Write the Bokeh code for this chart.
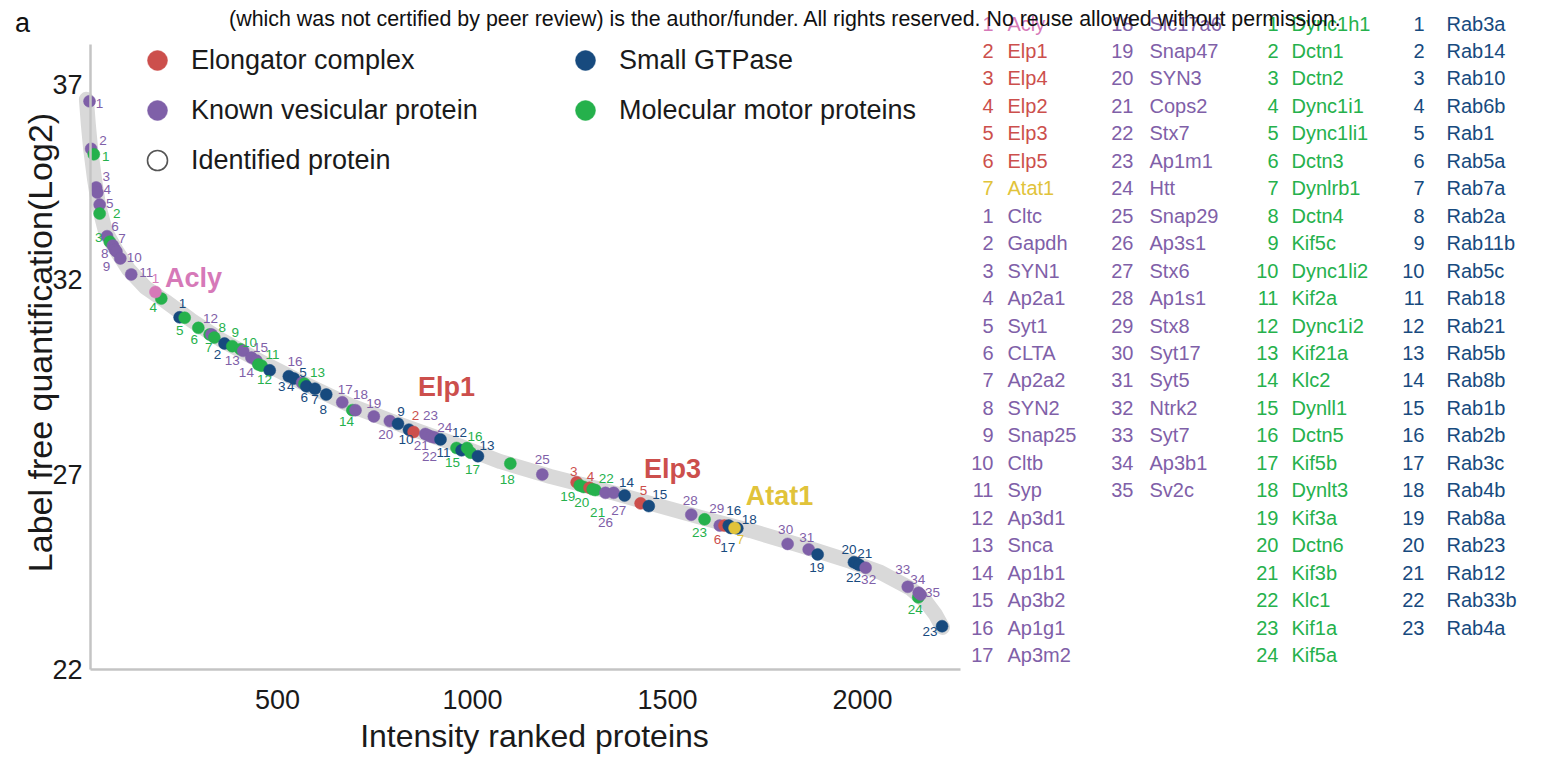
import math
import pandas as pd
from bokeh.plotting import figure
from bokeh.models import (ColumnDataSource, LabelSet, Label, Legend, LegendItem,
                          Range1d, FixedTicker)
from bokeh.core.properties import value
from bokeh.embed import file_html
from bokeh.resources import INLINE

FONT = "Liberation Sans"
C_RED = "#cc4f4c"
C_PURPLE = "#7f60a8"
C_GREEN = "#25b14c"
C_BLUE = "#174a7e"
C_PINK = "#d679b8"
C_YELLOW = "#e1c33a"
C_TEXT = "#1a1a1a"

# ---------------- data ----------------
# all identified proteins: intensity rank vs log2 LFQ (read along the band)
bg_rank = [10, 15, 21, 31, 41, 59, 85, 118, 162, 213, 277, 354, 456, 559, 687, 815,
           944, 1072, 1200, 1328, 1456, 1585, 1713, 1841, 1969, 2046, 2123, 2162, 2187, 2205]
bg_log2 = [36.62, 35.97, 35.33, 34.56, 33.92, 33.23, 32.77, 32.26, 31.79, 31.44, 30.97,
           30.46, 29.90, 29.38, 28.77, 28.28, 27.82, 27.33, 26.95, 26.62, 26.26, 25.90,
           25.56, 25.18, 24.77, 24.49, 24.08, 23.74, 23.41, 23.08]

acly_name = "Acly"
acly_rank = [187]
acly_log2 = [31.68]

elongator_names = ["Elp1", "Elp4", "Elp2", "Elp3", "Elp5"]
elongator_rank = [849, 1267, 1300, 1431, 1646]
elongator_log2 = [28.09, 26.80, 26.66, 26.26, 25.69]

atat_name = "Atat1"
atat_rank = [1672]
atat_log2 = [25.63]

vesicular_names = ["Cltc", "Gapdh", "SYN1", "Ap2a1", "Syt1", "CLTA", "Ap2a2", "SYN2",
                   "Snap25", "Cltb", "Syp", "Ap3d1", "Snca", "Ap1b1", "Ap3b2", "Ap1g1",
                   "Ap3m2", "Slc17a6", "Snap47", "SYN3", "Cops2", "Stx7", "Ap1m1", "Htt",
                   "Snap29", "Ap3s1", "Stx6", "Ap1s1", "Stx8", "Syt17", "Syt5", "Ntrk2",
                   "Syt7", "Ap3b1", "Sv2c"]
vesicular_rank = [18, 22, 35, 38, 44, 63, 78, 83, 87, 97, 125, 331, 412, 433, 446, 563,
                  666, 700, 747, 788, 879, 887, 895, 903, 1179, 1341, 1362, 1561, 1634,
                  1808, 1862, 2008, 2116, 2144, 2149]
vesicular_log2 = [36.57, 35.35, 34.36, 34.23, 33.92, 33.11, 32.87, 32.77, 32.72, 32.54,
                  32.13, 30.59, 30.17, 30.00, 29.92, 29.35, 28.85, 28.65, 28.49, 28.37,
                  28.04, 28.00, 27.97, 27.95, 27.00, 26.53, 26.53, 25.97, 25.69, 25.22,
                  25.08, 24.61, 24.12, 23.97, 23.92]

motor_names = ["Dync1h1", "Dctn1", "Dctn2", "Dync1i1", "Dync1li1", "Dctn3", "Dynlrb1",
               "Dctn4", "Kif5c", "Dync1li2", "Kif2a", "Dync1i2", "Kif21a", "Klc2",
               "Dynll1", "Dctn5", "Kif5b", "Dynlt3", "Kif3a", "Dctn6", "Kif3b", "Klc1",
               "Kif1a", "Kif5a"]
motor_rank = [29, 44, 70, 202, 262, 297, 326, 338, 384, 405, 451, 459, 569, 692, 959,
              986, 995, 1097, 1275, 1285, 1308, 1315, 1595, 2143]
motor_log2 = [35.21, 33.69, 32.97, 31.51, 31.02, 30.76, 30.59, 30.51, 30.29, 30.21,
              29.82, 29.79, 29.33, 28.65, 27.68, 27.68, 27.56, 27.28, 26.72, 26.68,
              26.62, 26.60, 25.85, 23.85]

gtpase_names = ["Rab3a", "Rab14", "Rab10", "Rab6b", "Rab1", "Rab5a", "Rab7a", "Rab2a",
                "Rab11b", "Rab5c", "Rab18", "Rab21", "Rab5b", "Rab8b", "Rab1b", "Rab2b",
                "Rab3c", "Rab4b", "Rab8a", "Rab23", "Rab12", "Rab33b", "Rab4a"]
gtpase_rank = [249, 364, 480, 529, 542, 574, 596, 625, 809, 837, 918, 972, 1014, 1390,
               1452, 1657, 1662, 1679, 1885, 1978, 1985, 1992, 2204]
gtpase_log2 = [31.03, 30.36, 29.67, 29.52, 29.46, 29.26, 29.20, 29.05, 28.30, 28.15,
               27.90, 27.62, 27.47, 26.46, 26.19, 25.69, 25.63, 25.62, 24.95, 24.75,
               24.72, 24.68, 23.11]

x_ticks = [500, 1000, 1500, 2000]
y_ticks = [22, 27, 32, 37]

# number-label placement around each point (screen px, +y = down)
acly_dx, acly_dy = [0], [-13]
elongator_dx = [2, -3, 1, 3, -7]
elongator_dy = [-16, -11, -11, -13, 14]
atat_dx, atat_dy = [6], [12]
vesicular_dx = [10, 12, 10, 10, 10, 8, 9, -10, -10, 14, 15, -1, -11, -5, 4, -7, 3, 5, 0, -4,
                -4, 1, -1, 10, 0, 0, 5, -1, -3, -2, -2, 3, -5, -1, 12]
vesicular_dy = [2, -8, -11, -3, -1, -10, -7, 4, 15, -1, -2, -16, 10, 15, -13, -21, -13, -16,
                -13, 13, 12, 21, -21, -10, -15, 30, 18, -14, -17, -14, -12, 12, -17, -13, -2]
motor_dx = [12, 17, -11, -8, -5, -4, -1, 8, 3, 9, 14, 3, 13, -6, -4, 8, 2, -3, -12, -2, 5,
            11, -5, -3]
motor_dy = [2, 0, -4, 9, 13, 12, 13, -10, -14, -7, -10, 14, -11, 11, 15, -11, 17, 16, 11, 16,
            23, -12, 13, 12]
gtpase_dx = [3, -7, 12, 2, 9, -2, 0, -3, 3, -3, 3, -2, 9, 2, 11, 5, -3, 12, -1, -5, 8, -6, -12]
gtpase_dy = [-14, 11, 16, 10, -6, 11, 11, 15, -12, 10, 13, -18, -11, -13, -12, -15, 20, -9,
             13, -13, -10, 13, 5]

# ---------------- build tables ----------------
def group(rank, log2, dx, dy, start, color, cat):
    n = len(rank)
    return pd.DataFrame(dict(rank=rank, log2=log2, dx=dx, dy=dy,
                             num=[str(start + i) for i in range(n)],
                             color=[color] * n, cat=[cat] * n))

main = pd.concat([
    group(elongator_rank, elongator_log2, elongator_dx, elongator_dy, 2, C_RED, "elp"),
    group(vesicular_rank, vesicular_log2, vesicular_dx, vesicular_dy, 1, C_PURPLE, "ves"),
    group(motor_rank, motor_log2, motor_dx, motor_dy, 1, C_GREEN, "mot"),
    group(gtpase_rank, gtpase_log2, gtpase_dx, gtpase_dy, 1, C_BLUE, "gtp"),
]).sort_values("rank", kind="stable")
top = pd.concat([
    group(acly_rank, acly_log2, acly_dx, acly_dy, 1, C_PINK, "acly"),
    group(atat_rank, atat_log2, atat_dx, atat_dy, 7, C_YELLOW, "atat"),
])
pts = pd.concat([main, top]).reset_index(drop=True)
src = ColumnDataSource(pts)

callouts = pd.DataFrame(dict(
    name=[acly_name, elongator_names[0], elongator_names[3], atat_name],
    rank=[acly_rank[0], elongator_rank[0], elongator_rank[3], atat_rank[0]],
    log2=[acly_log2[0], elongator_log2[0], elongator_log2[3], atat_log2[0]],
    color=[C_PINK, C_RED, C_RED, C_YELLOW],
    dx=[38, 33, 32, 45], dy=[-14, -45, -34, -32]))

# ---------------- figure layout ----------------
# The frame fills the whole canvas; the axes sit at fixed data locations inside it.
W, H = 1536, 756
AX_X, AX_Y = 90, 669                 # canvas px of the axis corner
PX_PER_RANK, PX_PER_LOG2 = 0.39, 39.0
X0, Y0 = 20.5, 22.0                  # data values at the axis corner
X_AXIS_END, Y_AXIS_END = 2251, 38.03

def sx(px):
    return px

def sy(py):
    return H - py

x_start = X0 - AX_X / PX_PER_RANK
y_start = Y0 - (H - AX_Y) / PX_PER_LOG2
p = figure(width=W, height=H,
           x_range=Range1d(x_start, x_start + W / PX_PER_RANK),
           y_range=Range1d(y_start, y_start + H / PX_PER_LOG2),
           output_backend="svg", toolbar_location=None,
           min_border_left=0, min_border_right=0, min_border_top=0, min_border_bottom=0)
p.outline_line_color = None
p.xgrid.visible = False
p.ygrid.visible = False

for ax in (p.xaxis[0], p.yaxis[0]):
    ax.axis_line_color = "#c4c4c4"
    ax.axis_line_width = 2.5
    ax.major_tick_line_color = None
    ax.minor_tick_line_color = None
    ax.major_label_text_font = FONT
    ax.major_label_text_font_size = "27px"
    ax.major_label_text_color = C_TEXT
    ax.axis_label = None

p.xaxis.ticker = FixedTicker(ticks=x_ticks)
p.yaxis.ticker = FixedTicker(ticks=y_ticks)
p.xaxis.bounds = (X0, X_AXIS_END)
p.yaxis.bounds = (Y0, Y_AXIS_END)
p.xaxis.fixed_location = Y0
p.yaxis.fixed_location = X0
p.xaxis.major_label_standoff = 14
p.yaxis.major_label_standoff = 2

# axis titles
p.add_layout(Label(x=sx(534), y=sy(735), x_units="screen", y_units="screen",
                   text="Intensity ranked proteins", text_font=FONT, text_font_size="32px",
                   text_align="center", text_baseline="middle", text_color=C_TEXT))
p.add_layout(Label(x=sx(39), y=sy(342), x_units="screen", y_units="screen", angle=math.pi / 2,
                   text="Label free quantification(Log2)", text_font=FONT,
                   text_font_size="34px", text_align="center", text_baseline="middle",
                   text_color=C_TEXT))

# band of all identified proteins
p.line(bg_rank, bg_log2, line_width=15, color="#d9d9d9", line_cap="round", line_join="round")

# highlighted proteins
r_pts = p.scatter(x="rank", y="log2", source=src, size=12, fill_color="color",
                  line_color="color", line_width=0.5)
p.text(x="rank", y="log2", text="num", source=src, text_color="color",
       text_font=value(FONT), text_font_size="13.5px", text_align="center",
       text_baseline="middle", x_offset="dx", y_offset="dy")
p.text(x="rank", y="log2", text="name", source=ColumnDataSource(callouts),
       text_color="color", text_font=value(FONT), text_font_size="27px",
       text_font_style="bold", text_align="center", text_baseline="middle",
       x_offset="dx", y_offset="dy")

# hidden renderer that only provides the legend glyph for identified proteins
r_ident = p.scatter(x=bg_rank, y=bg_log2, size=12, fill_color=None,
                    line_color="#555555", line_width=1.6, visible=False)

idx = {c: int(pts.index[pts["cat"] == c][0]) for c in ["elp", "ves", "gtp", "mot"]}
leg_kw = dict(glyph_width=50, glyph_height=50, label_height=50, spacing=0, padding=0,
              margin=0, label_standoff=9, border_line_color=None, background_fill_alpha=0,
              inactive_fill_alpha=0,
              label_text_font=FONT, label_text_font_size="27px", label_text_color=C_TEXT,
              label_text_baseline="middle")
leg1 = Legend(items=[
    LegendItem(label=value("Elongator complex"), renderers=[r_pts], index=idx["elp"]),
    LegendItem(label=value("Known vesicular protein"), renderers=[r_pts], index=idx["ves"]),
    LegendItem(label=value("Identified protein"), renderers=[r_ident]),
], location=(sx(132), sy(185)), **leg_kw)
leg2 = Legend(items=[
    LegendItem(label=value("Small GTPase"), renderers=[r_pts], index=idx["gtp"]),
    LegendItem(label=value("Molecular motor proteins"), renderers=[r_pts], index=idx["mot"]),
], location=(sx(560), sy(135)), **leg_kw)
p.add_layout(leg1)
p.add_layout(leg2)

# ---------------- key lists on the right ----------------
ROW0, ROWH = 23.0, 27.46

col1 = ([("1", acly_name, C_PINK)] +
        [(str(i + 2), n, C_RED) for i, n in enumerate(elongator_names)] +
        [("7", atat_name, C_YELLOW)] +
        [(str(i + 1), n, C_PURPLE) for i, n in enumerate(vesicular_names[:17])])
col2 = [(str(i + 18), n, C_PURPLE) for i, n in enumerate(vesicular_names[17:])]
col3 = [(str(i + 1), n, C_GREEN) for i, n in enumerate(motor_names)]
col4 = [(str(i + 1), n, C_BLUE) for i, n in enumerate(gtpase_names)]

rows = []
for entries, num_right, name_left in [(col1, 993, 1007), (col2, 1133, 1149),
                                      (col3, 1278, 1291), (col4, 1424, 1446)]:
    for i, (num, name, color) in enumerate(entries):
        rows.append(dict(num=num, name=name, color=color,
                         sxn=sx(num_right), sxt=sx(name_left),
                         sy=sy(ROW0 + i * ROWH)))
lsrc = ColumnDataSource(pd.DataFrame(rows))
common = dict(source=lsrc, x_units="screen", y_units="screen", text_baseline="middle",
              text_color="color", text_font=value(FONT), text_font_size="20px")
p.add_layout(LabelSet(x="sxn", y="sy", text="num", text_align="right", **common))
p.add_layout(LabelSet(x="sxt", y="sy", text="name", text_align="left", **common))

# header texts
p.add_layout(Label(x=sx(785), y=sy(18), x_units="screen", y_units="screen",
                   text="(which was not certified by peer review) is the author/funder. "
                        "All rights reserved. No reuse allowed without permission.",
                   text_font=FONT, text_font_size="21.4px", text_align="center",
                   text_baseline="middle", text_color="#111111"))
p.add_layout(Label(x=sx(22), y=sy(22), x_units="screen", y_units="screen",
                   text="a", text_font=FONT, text_font_size="27px", text_align="center",
                   text_baseline="middle", text_color="#111111"))

open("out.html", "w").write(file_html(p, INLINE))
